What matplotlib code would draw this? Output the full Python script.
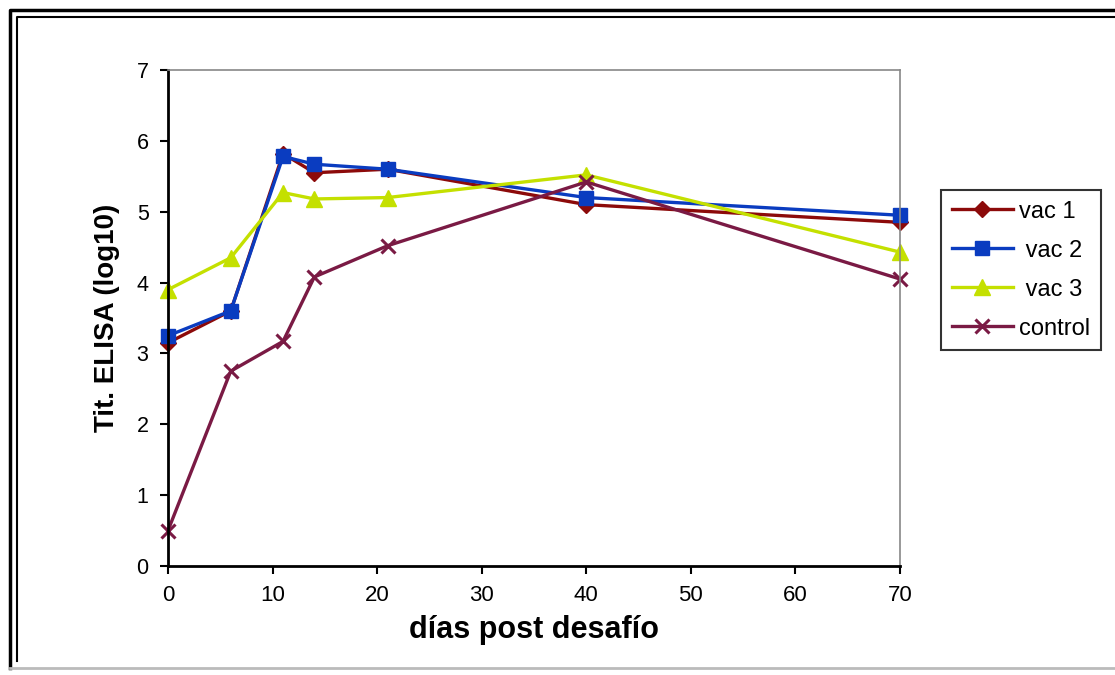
import matplotlib
matplotlib.use("Agg")
import matplotlib.pyplot as plt
from matplotlib.lines import Line2D

# Antibody titres (ELISA, log10) after challenge
days = [0, 6, 11, 14, 21, 40, 70]
vac1 = [3.15, 3.60, 5.82, 5.55, 5.60, 5.10, 4.85]
vac2 = [3.25, 3.60, 5.78, 5.67, 5.60, 5.20, 4.95]
vac3 = [3.90, 4.35, 5.27, 5.18, 5.20, 5.52, 4.43]
control = [0.50, 2.75, 3.17, 4.08, 4.52, 5.42, 4.05]

series_names = ["vac 1", " vac 2", " vac 3", "control"]
x_ticks = [0, 10, 20, 30, 40, 50, 60, 70]
y_ticks = [0, 1, 2, 3, 4, 5, 6, 7]

plt.rcParams["font.family"] = ["Liberation Sans", "DejaVu Sans"]

fig = plt.figure(figsize=(11.15, 6.75), dpi=100)
ax = fig.add_axes([168 / 1115, 1 - 566 / 675, (900 - 168) / 1115, (566 - 70) / 675])

styles = [
    dict(color="#8c0a0a", marker="D", markersize=8),
    dict(color="#0a3cc0", marker="s", markersize=10),
    dict(color="#c4e000", marker="^", markersize=11),
    dict(color="#7a1a44", marker="x", markersize=10, markeredgewidth=2.2),
]
handles = []
for vals, name, st in zip([vac1, vac2, vac3, control], series_names, styles):
    (h,) = ax.plot(days, vals, linewidth=2.4, label=name, clip_on=False, **st)
    handles.append(h)

ax.set_xlim(0, 70)
ax.set_ylim(0, 7)
ax.set_xticks(x_ticks)
ax.set_yticks(y_ticks)
ax.tick_params(axis="both", direction="out", length=6, width=1.5, labelsize=15.5, pad=8)
for lbl in ax.get_xticklabels():
    lbl.set_fontsize(16)
for side in ("left", "bottom"):
    ax.spines[side].set_linewidth(2)
    ax.spines[side].set_color("black")
for side in ("top", "right"):
    ax.spines[side].set_linewidth(1.2)
    ax.spines[side].set_color("#888888")

ax.set_xlabel("días post desafío", fontsize=22, fontweight="bold", labelpad=6)
ax.set_ylabel("Tit. ELISA (log10)", fontsize=20, fontweight="bold", labelpad=12)

leg = fig.legend(handles=handles, labels=series_names, loc="upper left",
                 bbox_to_anchor=(941 / 1115, 1 - 190 / 675), fontsize=17,
                 frameon=True, fancybox=False, edgecolor="black", handlelength=2.6,
                 borderpad=0.45, labelspacing=0.72, handletextpad=0.25, borderaxespad=0)
leg.get_frame().set_linewidth(1.5)

# Double outer frame
for (x0, y0, x1, y1, lw) in [(10, 10, 1125, 668, 2.5), (17, 17, 1125, 661, 1.5)]:
    fig.add_artist(Line2D([x0 / 1115, x0 / 1115, 1.01], [1 - y1 / 675, 1 - y0 / 675, 1 - y0 / 675],
                          transform=fig.transFigure, color="black", linewidth=lw))
fig.add_artist(Line2D([10 / 1115, 1.0], [1 - 668 / 675, 1 - 668 / 675],
                      transform=fig.transFigure, color="#bbbbbb", linewidth=2))

fig.savefig("out.png", dpi=100)
